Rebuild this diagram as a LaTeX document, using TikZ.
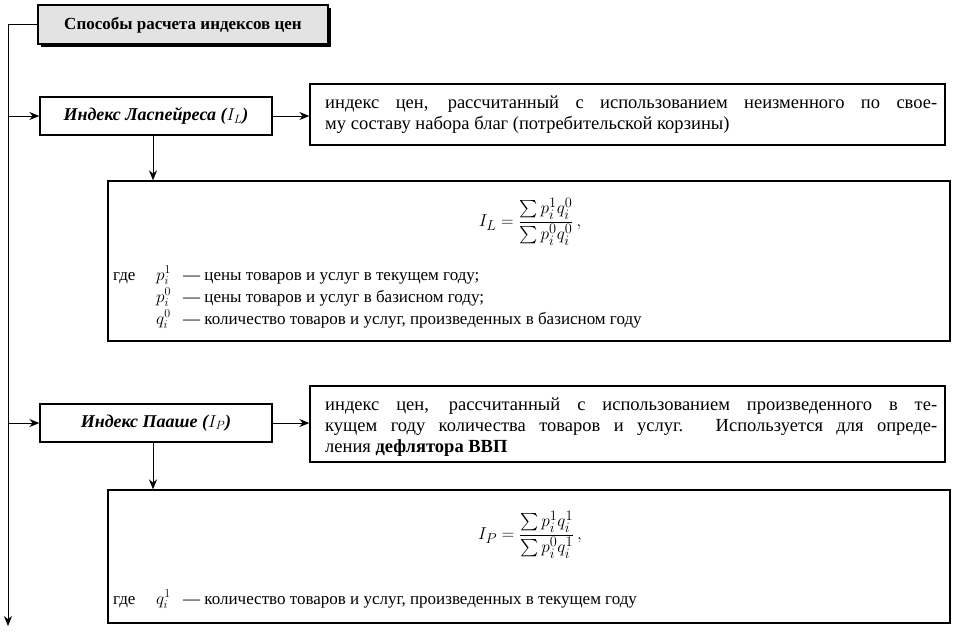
\documentclass[tikz,border=0pt]{standalone}
\usepackage{amsmath}
\usepackage{fontspec}
\setmainfont{Liberation Serif}
\usetikzlibrary{arrows.meta}
\begin{document}
\begin{tikzpicture}[x=1pt,y=-1pt,
  bx/.style={draw,line width=1.3pt},
  arr/.style={-{Stealth[length=10pt,width=8pt]},line width=0.9pt},
  tx/.style={anchor=base west,inner sep=0pt,font=\fontsize{18.5}{22}\selectfont},
  lg/.style={anchor=base west,inner sep=0pt,font=\fontsize{17}{20}\selectfont}]
\useasboundingbox (0,0) rectangle (960,632);
% title
\fill[black] (41,8) rectangle (331,47);
\draw[bx,fill=gray!22] (38,5) rectangle (328,44);
\node[inner sep=0pt,font=\bfseries\fontsize{17}{20}\selectfont] (t) at (183,25) {Способы расчета индексов цен};
\coordinate (tl) at (38,24);
\coordinate (c1) at (8,24);
\coordinate (bot) at (8,626);
\draw[arr] (tl) -- (c1) -- (bot);
% Laspeyres
\node[bx,minimum width=232pt,minimum height=38pt,font=\bfseries\itshape\fontsize{18}{21}\selectfont] (L) at (156,116) {Индекс Ласпейреса ($I_L$)};
\coordinate (jl) at (8,116);
\draw[arr] (jl) -- (L.west);
\node[bx,minimum width=635pt,minimum height=61pt] (Ld) at (627.5,114.5) {};
\draw[arr] (L.east) -- (L.east -| Ld.west);
\node[tx] (l1) at (325,108) {\makebox[612pt][s]{индекс цен, рассчитанный с использованием неизменного по свое-}};
\node[tx] (l2) at (325,129) {му составу набора благ (потребительской корзины)};
\node[bx,minimum width=842pt,minimum height=160pt] (LF) at (529,261) {};
\draw[arr] (L.south -| 153,0) -- (LF.north -| 153,0);
\node[inner sep=0pt,font=\fontsize{19}{22}\selectfont] (fL) at (530,222) {$I_L=\dfrac{\sum p_i^1q_i^0}{\sum p_i^0q_i^0}\,,$};
\node[lg] (g1) at (113,280) {где};
\node[lg] (g1a) at (156,280) {$p_i^1$};
\node[lg] (g1b) at (183,280) {— цены товаров и услуг в текущем году;};
\node[lg] (g2a) at (156,302) {$p_i^0$};
\node[lg] (g2b) at (183,302) {— цены товаров и услуг в базисном году;};
\node[lg] (g3a) at (156,324) {$q_i^0$};
\node[lg] (g3b) at (183,324) {— количество товаров и услуг, произведенных в базисном году};
% Paasche
\node[bx,minimum width=232pt,minimum height=38pt,font=\bfseries\itshape\fontsize{18}{21}\selectfont] (P) at (156,423) {Индекс Пааше ($I_P$)};
\coordinate (jp) at (8,423);
\draw[arr] (jp) -- (P.west);
\node[bx,minimum width=635pt,minimum height=76pt] (Pd) at (627.5,424) {};
\draw[arr] (P.east) -- (P.east -| Pd.west);
\node[tx] (p1) at (325,410) {\makebox[612pt][s]{индекс цен, рассчитанный с использованием произведенного в те-}};
\node[tx] (p2) at (325,431) {\makebox[612pt][s]{кущем году количества товаров и услуг. Используется для опреде-}};
\node[tx] (p3) at (325,452) {ления \textbf{дефлятора ВВП}};
\node[bx,minimum width=842pt,minimum height=133pt] (PF) at (529,556.5) {};
\draw[arr] (P.south -| 153,0) -- (PF.north -| 153,0);
\node[inner sep=0pt,font=\fontsize{19}{22}\selectfont] (fP) at (530,535) {$I_P=\dfrac{\sum p_i^1q_i^1}{\sum p_i^0q_i^1}\,,$};
\node[lg] (h1) at (113,604) {где};
\node[lg] (h1a) at (156,604) {$q_i^1$};
\node[lg] (h1b) at (183,604) {— количество товаров и услуг, произведенных в текущем году};
\end{tikzpicture}
\end{document}
